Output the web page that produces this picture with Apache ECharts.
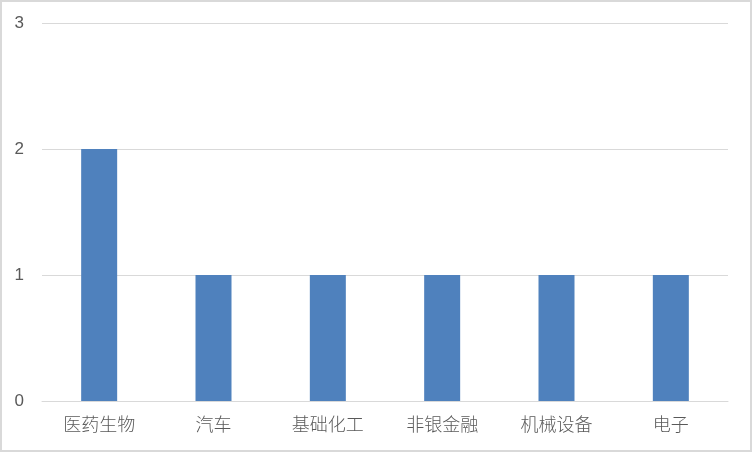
<!DOCTYPE html>
<html><head><meta charset="utf-8">
<script src="https://cdn.jsdelivr.net/npm/echarts@6/dist/echarts.min.js"></script>
<style>
html,body{margin:0;padding:0;background:#fff;}
#wrap{position:absolute;left:0;top:0;width:748px;height:448px;border:2px solid #d9d9d9;}
#c{position:absolute;left:-2px;top:-2px;width:752px;height:452px;}
</style></head>
<body><div id="wrap"><div id="c"></div></div>
<script>
const categories = ['医药生物','汽车','基础化工','非银金融','机械设备','电子'];
const values = [2,1,1,1,1,1];
const yTicks = [0,1,2,3];

const chart = echarts.init(document.getElementById('c'));
chart.setOption({
  animation:false,
  grid:{left:42,right:24,top:23,bottom:51},
  xAxis:{type:'category',data:categories,
    axisLine:{lineStyle:{color:'#d9d9d9',width:1}},
    axisTick:{show:false},
    axisLabel:{color:'#595959',fontSize:18,margin:14,fontFamily:'Noto Sans CJK SC',fontWeight:300}},
  yAxis:{type:'value',min:yTicks[0],max:yTicks[yTicks.length-1],interval:1,
    axisLine:{show:false},axisTick:{show:false},
    splitLine:{lineStyle:{color:'#d9d9d9',width:1}},
    axisLabel:{color:'#595959',fontSize:17,margin:18,fontFamily:'Liberation Sans'}},
  series:[{type:'bar',data:values,barWidth:36,itemStyle:{color:'#4f81bd'}}]
});
</script></body></html>
